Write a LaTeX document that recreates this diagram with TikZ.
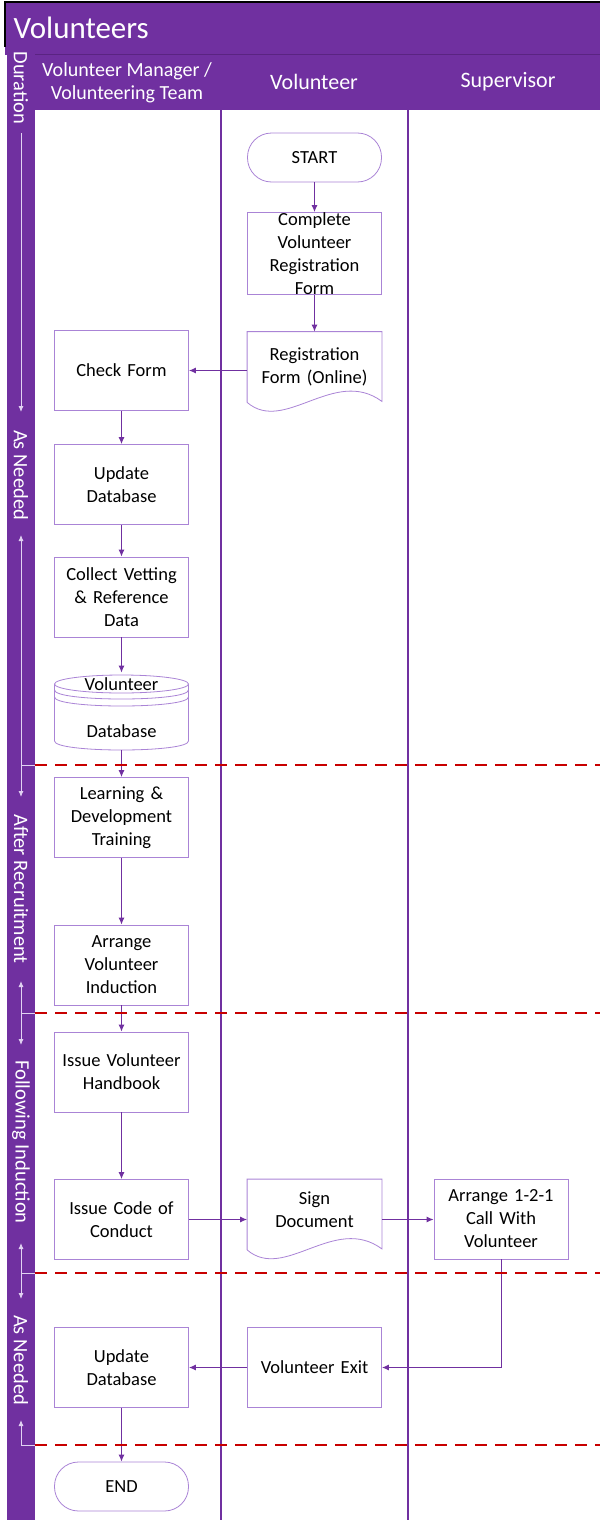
\documentclass[tikz,border=0pt]{standalone}
\usepackage{fontspec}
\setmainfont{Carlito}
\usetikzlibrary{calc, shapes.geometric, positioning, shapes, arrows, arrows.meta}
\definecolor{vpurple}{RGB}{112,48,160}
\definecolor{vdark}{RGB}{90,36,130}
\definecolor{vlight}{RGB}{170,132,214}
\definecolor{vpale}{RGB}{225,210,242}
\definecolor{vred}{RGB}{200,0,0}

\begin{document}
\begin{tikzpicture}[x=1pt,y=-1pt,
  procbox/.style={draw=vlight, line width=0.8pt, fill=white, minimum width=134pt, minimum height=80pt, text width=134pt, align=center, inner sep=0pt, font=\fontsize{18.5}{23}\selectfont},
  termbox/.style={procbox, minimum height=49pt, rounded corners=24pt},
  plainbox/.style={procbox, draw=none, fill=none},
  docline/.style={draw=vlight, line width=0.8pt},
  flow/.style={draw=vpurple, line width=1pt, -{Latex[length=7pt,width=6pt]}},
  phaseline/.style={draw=vred, line width=1.6pt, dash pattern=on 12pt off 8pt},
  laneline/.style={draw=vpurple, line width=1.5pt},
  headtext/.style={text=white, align=center, font=\fontsize{22}{24}\selectfont},
  striptext/.style={text=white, rotate=-90, font=\fontsize{20.5}{22}\selectfont},
  stripline/.style={draw=vpale, line width=0.9pt},
  striparrow/.style={stripline, -{Latex[length=6pt,width=5pt]}}]
\useasboundingbox (0,0) rectangle (600,1520);
\fill[vpurple] (5,2) rectangle (600,55);
\fill[vpurple] (35,55) rectangle (600,110);
\fill[vpurple] (7,55) rectangle (35,1520);
\draw[vdark, line width=1pt] (35,55) -- (600,55);
\draw[black, line width=2pt] (5,47) -- (5,2) -- (600,2);
\node[text=white, anchor=west, font=\fontsize{31}{34}\selectfont] (title) at (10,28) {Volunteers};
\node[headtext, font=\fontsize{20}{23}\selectfont] (hmgr) at (127,83) {Volunteer Manager /\\Volunteering Team};
\node[headtext] (hvol) at (314,82) {Volunteer};
\node[headtext] (hsup) at (508,82) {Supervisor};
\draw[laneline] (221,110) -- (221,1520);
\draw[laneline] (408,110) -- (408,1520);
\node[striptext] (dur) at (21,88) {Duration};
\node[striptext] (asneeded) at (21,475) {As Needed};
\node[striptext] (afterrec) at (21,889) {After Recruitment};
\node[striptext] (following) at (21,1142) {Following Induction};
\node[striptext] (asneededb) at (21,1360) {As Needed};
\draw[striparrow] (21,133) -- (21,412);
\draw[striparrow] (35,765) -- (21,765) -- (21,535);
\draw[striparrow] (21,765) -- (21,797);
\draw[striparrow] (35,1013) -- (21,1013) -- (21,981);
\draw[striparrow] (21,1013) -- (21,1045);
\draw[striparrow] (35,1273) -- (21,1273) -- (21,1243);
\draw[striparrow] (21,1273) -- (21,1299);
\draw[striparrow] (35,1445) -- (21,1445) -- (21,1420);
\node[termbox] (start) at (314.5,157.5) {START};
\node[procbox] (complete) at (314.5,253.5) {Complete\\Volunteer\\Registration\\Form};
\node[plainbox, minimum height=70pt] (regform) at (314.5,367) {};
\draw[docline, fill=white] (regform.south west) -- (regform.north west) -- (regform.north east) -- ($(regform.south east)+(0,-1)$) .. controls ($(regform.south)+(20,-36)$) and ($(regform.south)+(-30,32)$) .. (regform.south west);
\node[plainbox, minimum height=70pt] at (regform) {Registration\\Form (Online)};
\node[procbox] (check) at (121.5,370.5) {Check Form};
\node[procbox] (updone) at (121.5,484.5) {Update\\Database};
\node[procbox] (vetting) at (121.5,597) {Collect Vetting\\\& Reference\\Data};
\node[plainbox, minimum height=77pt] (vdb) at (121.5,711.5) {};
\draw[docline, fill=white] (54.5,684) -- (54.5,741) .. controls (54.5,753) and (188.5,753) .. (188.5,741) -- (188.5,684);
\draw[docline, fill=white] (121.5,684) ellipse [x radius=67, y radius=9];
\draw[docline] (54.5,690) .. controls (54.5,702) and (188.5,702) .. (188.5,690);
\draw[docline] (54.5,697) .. controls (54.5,709) and (188.5,709) .. (188.5,697);
\node[font=\fontsize{18.5}{23}\selectfont] (vdbtop) at (121.5,684) {Volunteer};
\node[font=\fontsize{18.5}{23}\selectfont] (vdbbot) at (121.5,731) {Database};
\node[procbox] (learning) at (121.5,817.5) {Learning \&\\Development\\Training};
\node[procbox] (induction) at (121.5,965) {Arrange\\Volunteer\\Induction};
\node[procbox] (handbook) at (121.5,1072) {Issue Volunteer\\Handbook};
\node[procbox] (conduct) at (121.5,1219.5) {Issue Code of\\Conduct};
\node[plainbox, minimum height=70pt] (signdoc) at (314.5,1214.5) {};
\draw[docline, fill=white] (signdoc.south west) -- (signdoc.north west) -- (signdoc.north east) -- ($(signdoc.south east)+(0,-1)$) .. controls ($(signdoc.south)+(20,-36)$) and ($(signdoc.south)+(-30,32)$) .. (signdoc.south west);
\node[plainbox, minimum height=70pt] at (314.5,1210) {Sign\\Document};
\node[procbox] (call) at (501,1219) {Arrange 1-2-1\\Call With\\Volunteer};
\node[procbox] (vexit) at (314.5,1367.5) {Volunteer Exit};
\node[procbox] (updtwo) at (121.5,1367.5) {Update\\Database};
\node[termbox] (finish) at (121.5,1486.5) {END};
\draw[flow] (start) -- (complete);
\draw[flow] (complete) -- (regform);
\draw[flow] (check.east -| regform.west) -- (check.east);
\draw[flow] (check) -- (updone);
\draw[flow] (updone) -- (vetting);
\draw[flow] (vetting) -- (vdb.north);
\draw[flow] (vdb.south) -- (learning);
\draw[flow] (learning) -- (induction);
\draw[flow] (induction) -- (handbook);
\draw[flow] (handbook) -- (conduct);
\draw[flow] (conduct.east) -- (conduct.east -| signdoc.west);
\draw[flow] (conduct.east -| signdoc.east) -- (conduct.east -| call.west);
\draw[flow] (call.south) |- (vexit.east);
\draw[flow] (vexit) -- (updtwo);
\draw[flow] (updtwo) -- (finish);
\draw[phaseline] (35,765) -- (600,765);
\draw[phaseline] (35,1013) -- (600,1013);
\draw[phaseline] (35,1273) -- (600,1273);
\draw[phaseline] (35,1445) -- (600,1445);
\end{tikzpicture}
\end{document}
